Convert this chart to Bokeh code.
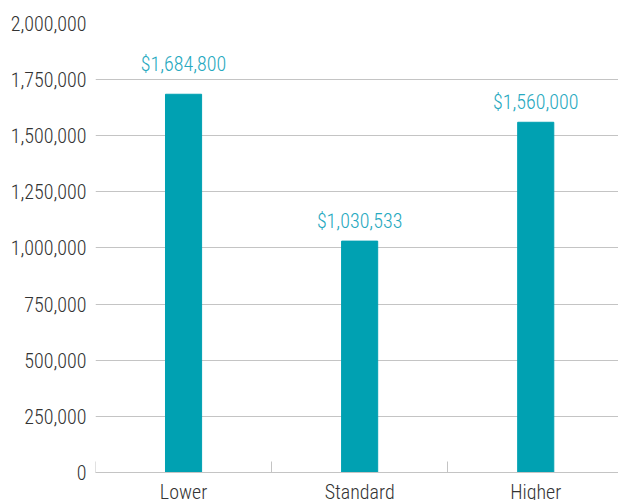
from bokeh.plotting import figure
from bokeh.models import ColumnDataSource, FixedTicker, NumeralTickFormatter, Range1d
from bokeh.core.properties import value
from bokeh.embed import file_html
from bokeh.resources import INLINE

categories = ["Lower", "Standard", "Higher"]
values = [1684800, 1030533, 1560000]
value_labels = ["$1,684,800", "$1,030,533", "$1,560,000"]
y_ticks = [0, 250000, 500000, 750000, 1000000, 1250000, 1500000, 1750000, 2000000]

FONT = "'Roboto Condensed Light', 'Roboto Condensed', 'Liberation Sans Narrow', sans-serif"
BAR = "#00A1B2"
LABEL = "#27A9C0"
GRID = "#c4c4c4"
TEXT = "#333333"

xs = [i + 0.5 for i in range(len(categories))]


# labels sit just above their bar, lifted clear when a grid line is close above
def label_offset(v):
    next_tick = min(t for t in y_ticks if t > v)
    return -30 if next_tick - v < 100000 else -20


src = ColumnDataSource(dict(x=xs, top=values, label=value_labels,
                            off=[label_offset(v) for v in values]))

# frame runs to the bottom edge; the space below 0 holds the category labels
p = figure(width=618, height=500, output_backend="svg", toolbar_location=None,
           x_range=Range1d(0, 2.97), y_range=Range1d(-125000, y_ticks[-1]),
           min_border_left=95, min_border_right=0, min_border_top=23, min_border_bottom=0)
p.outline_line_color = None
p.background_fill_color = "white"
p.border_fill_color = "white"

p.vbar(x="x", top="top", bottom=0, width=0.205, source=src, color=BAR)
p.text(x="x", y="top", text="label", source=src, text_align="center",
       text_baseline="alphabetic", y_offset="off", text_color=LABEL,
       text_font=value(FONT), text_font_size="20px")

# y axis
p.yaxis.ticker = FixedTicker(ticks=y_ticks)
p.yaxis.formatter = NumeralTickFormatter(format="0,0")
p.yaxis.axis_line_color = None
p.yaxis.major_tick_line_color = None
p.yaxis.minor_tick_line_color = None
p.yaxis.major_label_text_font = FONT
p.yaxis.major_label_text_font_size = "20px"
p.yaxis.major_label_text_color = TEXT
p.yaxis.major_label_standoff = 3

# x axis drawn at y = 0 inside the frame
p.xaxis.fixed_location = 0
p.xaxis.ticker = FixedTicker(ticks=xs, minor_ticks=list(range(len(categories) + 1)))
p.xaxis.major_label_overrides = {x: c for x, c in zip(xs, categories)}
p.xaxis.axis_line_color = GRID
p.xaxis.major_tick_line_color = None
p.xaxis.minor_tick_line_color = GRID
p.xaxis.minor_tick_in = 11
p.xaxis.minor_tick_out = 0
p.xaxis.major_label_text_font = FONT
p.xaxis.major_label_text_font_size = "20px"
p.xaxis.major_label_text_color = TEXT
p.xaxis.major_label_standoff = 2

p.xgrid.grid_line_color = None
p.ygrid.grid_line_color = GRID
p.ygrid.ticker = FixedTicker(ticks=y_ticks)

open("out.html", "w").write(file_html(p, INLINE))
